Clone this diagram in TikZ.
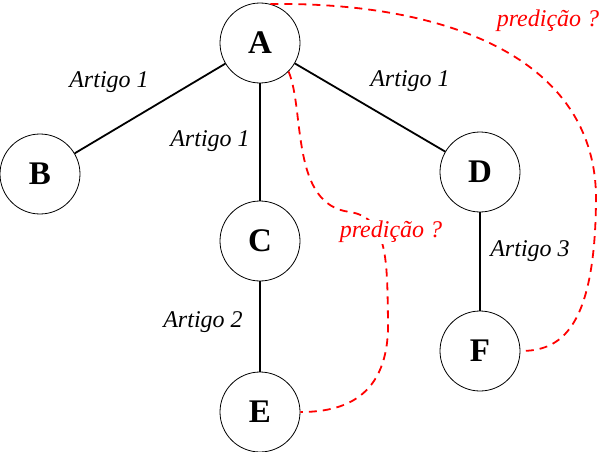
\documentclass[tikz,border=0pt]{standalone}
\usepackage{fontspec}
\setmainfont{Liberation Serif}
\begin{document}
\begin{tikzpicture}[x=1pt,y=-1pt,
  vert/.style={circle,draw,line width=0.8pt,minimum size=80pt,inner sep=0pt,font=\fontsize{33}{36}\selectfont\bfseries},
  edge/.style={line width=1.8pt},
  elabel/.style={font=\fontsize{24}{26}\selectfont\itshape,inner sep=0pt},
  pred/.style={red,line width=1.8pt,dash pattern=on 8pt off 6pt},
  plabel/.style={font=\fontsize{24}{26}\selectfont\itshape,text=red,inner sep=1pt}]
\useasboundingbox (0,0) rectangle (603,452);
\node[vert] (A) at (260,43) {A};
\node[vert] (B) at (40,174) {B};
\node[vert] (C) at (260,241) {C};
\node[vert] (D) at (480,172) {D};
\node[vert] (E) at (260,412) {E};
\node[vert] (F) at (480,351) {F};
\draw[edge] (A) -- (B);
\draw[edge] (A) -- (C);
\draw[edge] (A) -- (D);
\draw[edge] (C) -- (E);
\draw[edge] (D) -- (F);
\node[elabel] (l1) at (109,82) {Artigo 1};
\node[elabel] (l2) at (210,141) {Artigo 1};
\node[elabel] (l3) at (410,81) {Artigo 1};
\node[elabel] (l4) at (203,322) {Artigo 2};
\node[elabel] (l5) at (530,251) {Artigo 3};
\draw[pred] (A.75) .. controls (450,2) and (597,60) .. (596,200) .. controls (595,330) and (560,351) .. (F.east);
\draw[pred] (A.-45) .. controls (305,110) and (290,205) .. (350,212) .. controls (388,218) and (387,260) .. (388,320) .. controls (390,400) and (340,412) .. (E.east);
\node[plabel,fill=white] (p2) at (391,232) {predição ?};
\node[plabel] (p1) at (548,21) {predição ?};
\end{tikzpicture}
\end{document}
